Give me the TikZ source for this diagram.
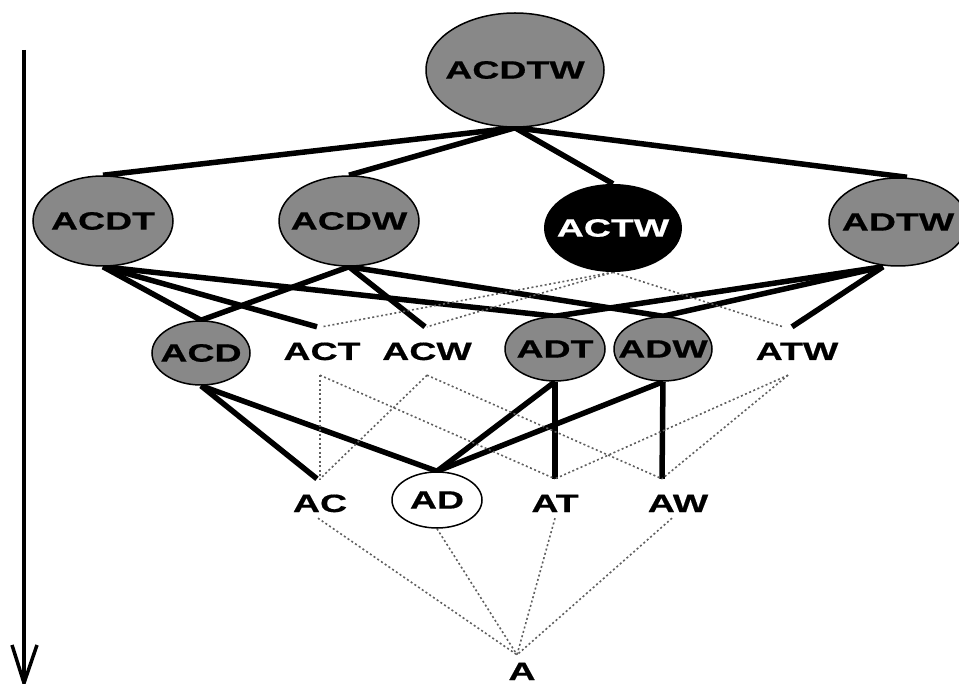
\documentclass[tikz,border=0pt]{standalone}
\usepackage{fontspec}
\newfontfamily\lblfont[FakeStretch=1.5, FakeBold=0.6]{Liberation Sans}
\usetikzlibrary{shapes.geometric}
\definecolor{gfill}{RGB}{136,136,136}
\definecolor{dotc}{RGB}{95,95,95}
\pgfdeclarelayer{bg}
\pgfsetlayers{bg,main}
\begin{document}
\begin{tikzpicture}[x=1pt,y=-1pt,
  lbl/.style={font=\lblfont\bfseries\fontsize{25}{25}\selectfont, inner sep=0pt},
  ovalbase/.style={lbl, ellipse, inner xsep=-40pt, inner ysep=-12pt},
  oval/.style={ovalbase, draw=black, line width=1.5pt, fill=gfill},
  pruned/.style={ovalbase, fill=black, text=white},
  plainoval/.style={ovalbase, draw=black, line width=1.5pt, fill=white},
  bareA/.style={lbl, text height=33pt, text depth=15pt, anchor=base},
  bareB/.style={lbl, text height=33pt, text depth=6pt, anchor=base},
  strong/.style={line width=5.5pt},
  weak/.style={line width=1.6pt, draw=dotc, dash pattern=on 2pt off 2.5pt}]
\useasboundingbox (0,0) rectangle (959,684);
\clip (0,0) rectangle (959,684);

% level 1
\node[oval, minimum width=178pt, minimum height=114pt] (acdtw) at (515,70) {ACDTW};
% level 2
\node[oval, minimum width=140pt, minimum height=90pt] (acdt) at (103,221) {ACDT};
\node[oval, minimum width=140pt, minimum height=90pt] (acdw) at (349,221) {ACDW};
\node[pruned, minimum width=138pt, minimum height=88pt] (actw) at (613,228) {ACTW};
\node[oval, minimum width=138pt, minimum height=88pt] (adtw) at (898,222) {ADTW};
% level 3
\node[oval, minimum width=98pt, minimum height=64pt] (acd) at (201,353) {ACD};
\node[bareA] (act) at (322,360) {ACT};
\node[bareA] (acw) at (427,360) {ACW};
\node[oval, minimum width=100pt, minimum height=64pt] (adt) at (555,349) {ADT};
\node[oval, minimum width=98pt, minimum height=64pt] (adw) at (663,349) {ADW};
\node[bareA] (atw) at (797,360) {ATW};
% level 4
\node[bareB] (ac) at (320,512) {AC};
\node[plainoval, minimum width=90pt, minimum height=56pt] (ad) at (437,500) {AD};
\node[bareB] (at) at (555,512) {AT};
\node[bareB] (aw) at (678,512) {AW};
% level 5
\node[lbl, text height=25pt, text depth=0pt, anchor=base] (a) at (522,680) {A};

% left arrow
\coordinate (arrtop) at (24,50);
\coordinate (arrtip) at (24,683);
\draw[line width=3.5pt] (arrtop) -- (arrtip);
\draw[line width=3.5pt, line join=miter] (arrtip) ++(-12,-38) -- (arrtip) -- ++(13,-38);

\begin{pgfonlayer}{bg}
% level 1 -> 2
\draw[strong] (acdtw.south) -- (acdt.north);
\draw[strong] (acdtw.south) -- (acdw.north);
\draw[strong] (acdtw.south) -- (actw.north);
\draw[strong] (acdtw.south) -- ([xshift=9pt]adtw.north);
% level 2 -> 3
\draw[strong] (acdt.south) -- (acd.north);
\draw[strong] (acdt.south) -- ([xshift=-5pt]act.north);
\draw[strong] (acdt.south) -- (adt.north);
\draw[strong] (acdw.south) -- (acd.north);
\draw[strong] (acdw.south) -- ([xshift=-2pt]acw.north);
\draw[strong] (acdw.south) -- (adw.north);
\draw[strong] ([xshift=-15pt]adtw.south) -- (adt.north);
\draw[strong] ([xshift=-15pt]adtw.south) -- (adw.north);
\draw[strong] ([xshift=-15pt]adtw.south) -- ([xshift=-5pt]atw.north);
\draw[weak] (actw.south) -- (act.north);
\draw[weak] (actw.south) -- (acw.north);
\draw[weak] (actw.south) -- ([xshift=-14pt]atw.north);
% level 3 -> 4
\draw[strong] (acd.south) -- ([xshift=-3pt]ac.north);
\draw[strong] (acd.south) -- (ad.north);
\draw[strong] (adt.south) -- (ad.north);
\draw[strong] (adt.south) -- (at.north);
\draw[strong] (adw.south) -- (ad.north);
\draw[strong] (adw.south) -- ([xshift=-16pt]aw.north);
\draw[weak] ([xshift=-2pt]act.south) -- (ac.north);
\draw[weak] ([xshift=-2pt]act.south) -- (at.north);
\draw[weak] (acw.south) -- (ac.north);
\draw[weak] (acw.south) -- ([xshift=-16pt]aw.north);
\draw[weak] ([xshift=-9pt]atw.south) -- (at.north);
\draw[weak] ([xshift=-9pt]atw.south) -- ([xshift=-16pt]aw.north);
% level 4 -> 5
\draw[weak] ([xshift=-2pt]ac.south) -- ([xshift=-5pt]a.north);
\draw[weak] (ad.south) -- ([xshift=-5pt]a.north);
\draw[weak] (at.south) -- ([xshift=-5pt]a.north);
\draw[weak] ([xshift=-6pt]aw.south) -- ([xshift=-5pt]a.north);
\end{pgfonlayer}
\end{tikzpicture}
\end{document}
